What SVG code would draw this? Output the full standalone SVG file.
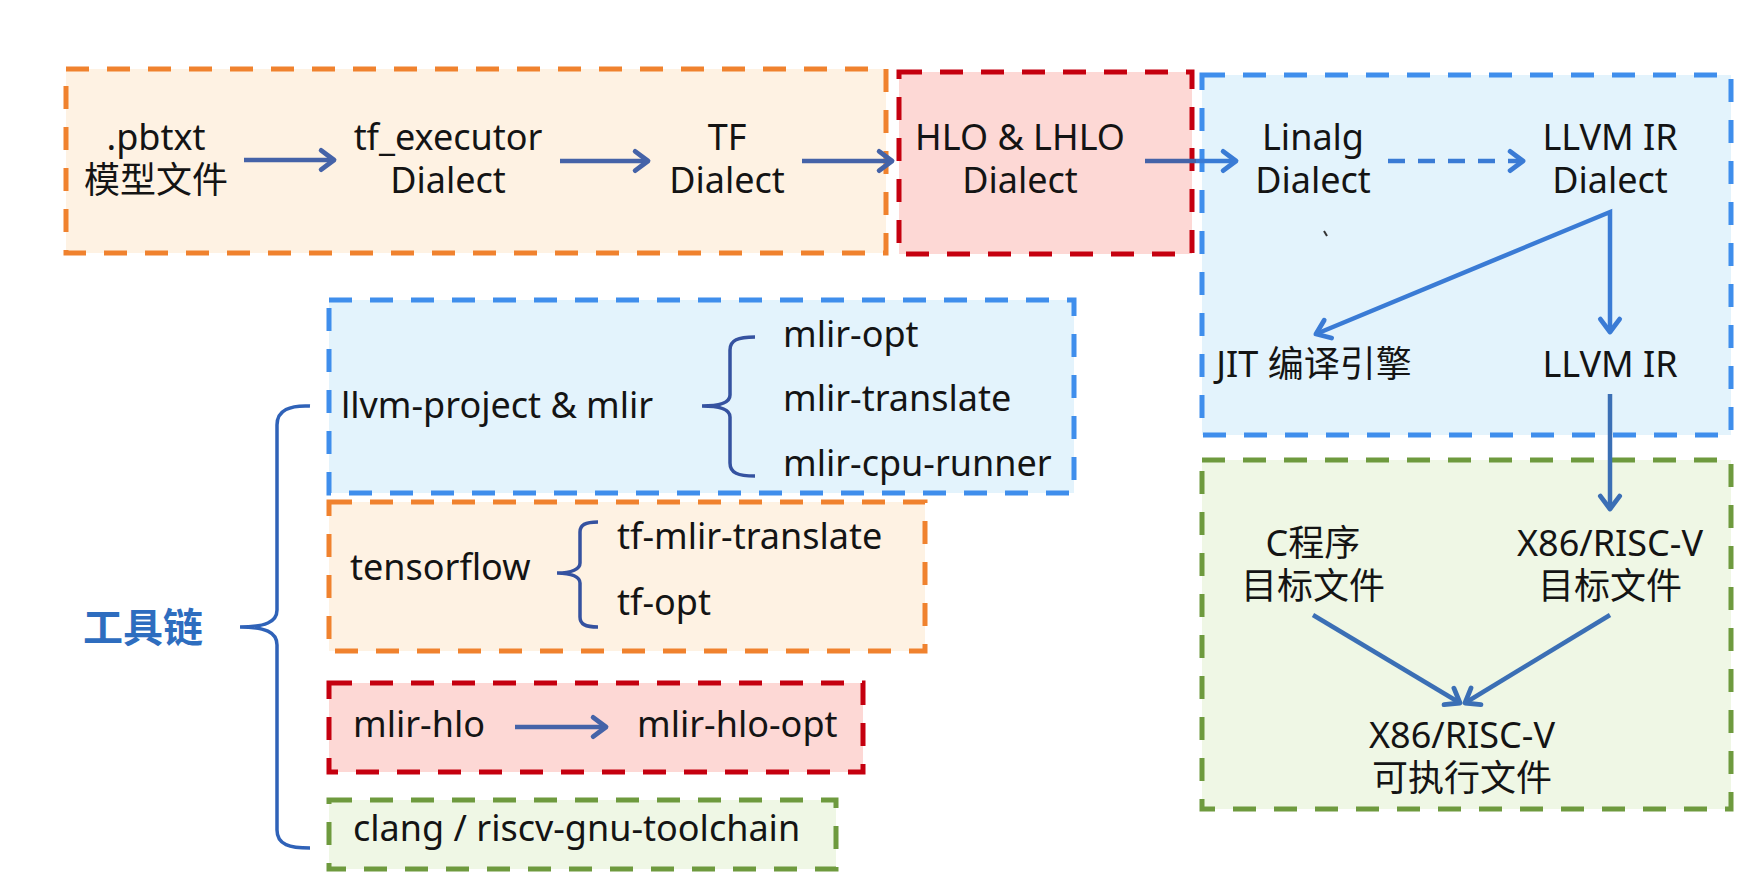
<svg xmlns="http://www.w3.org/2000/svg" width="1757" height="891" viewBox="0 0 1757 891">
<style>
.t{font-family:"Noto Sans","Noto Sans CJK SC",sans-serif;font-size:36px;fill:#141414}
.c{text-anchor:middle}
.box{stroke-width:5;stroke-dasharray:23 18}
.or{fill:#FEF2E3;stroke:#F0822E}
.rd{fill:#FDD8D5;stroke:#C5000F}
.bl{fill:#E3F3FC;stroke:#3F8EEC}
.gr{fill:#EFF7E5;stroke:#6E9A3E}
.nav{stroke:#4563A8;stroke-width:4.5;fill:none}
.brt{stroke:#3A7BD5;stroke-width:4.5;fill:none}
.stl{stroke:#3B6FB5;stroke-width:4.5;fill:none}
.br{stroke:#2F62B8;stroke-width:3.5;fill:none}
.sb{stroke:#3552A0;stroke-width:3.5;fill:none}
</style>
<defs>
<marker id="mNav" markerUnits="userSpaceOnUse" markerWidth="30" markerHeight="30" refX="0" refY="0" viewBox="-16 -14 20 28" orient="auto" overflow="visible">
<path d="M-12,-9 L0,0 L-12,9" fill="none" stroke="#4563A8" stroke-width="4.5" stroke-linecap="round" stroke-linejoin="round"/>
</marker>
<marker id="mBrt" markerUnits="userSpaceOnUse" markerWidth="30" markerHeight="30" refX="0" refY="0" viewBox="-16 -14 20 28" orient="auto-start-reverse" overflow="visible">
<path d="M-12,-9 L0,0 L-12,9" fill="none" stroke="#3A7BD5" stroke-width="4.5" stroke-linecap="round" stroke-linejoin="round"/>
</marker>
<marker id="mStl" markerUnits="userSpaceOnUse" markerWidth="30" markerHeight="30" refX="0" refY="0" viewBox="-16 -14 20 28" orient="auto" overflow="visible">
<path d="M-12,-9 L0,0 L-12,9" fill="none" stroke="#3B6FB5" stroke-width="4.5" stroke-linecap="round" stroke-linejoin="round"/>
</marker>
</defs>
<rect width="1757" height="891" fill="#FFFFFF"/>

<g id="frontend">
<rect class="box or" x="66" y="69" width="820" height="184"/>
<text class="t c" x="156" y="150"><tspan x="156">.pbtxt</tspan><tspan x="156" dy="43">模型文件</tspan></text>
<text class="t c" x="448" y="150"><tspan x="448">tf_executor</tspan><tspan x="448" dy="43">Dialect</tspan></text>
<text class="t c" x="727" y="150"><tspan x="727">TF</tspan><tspan x="727" dy="43">Dialect</tspan></text>
</g>

<g id="hlo">
<rect class="box rd" x="899" y="72" width="293" height="182"/>
<text class="t c" x="1020" y="150"><tspan x="1020">HLO &amp; LHLO</tspan><tspan x="1020" dy="43">Dialect</tspan></text>
</g>

<g id="llvm">
<rect class="box bl" x="1202" y="75" width="529" height="360"/>
<text class="t c" x="1313" y="150"><tspan x="1313">Linalg</tspan><tspan x="1313" dy="43">Dialect</tspan></text>
<text class="t c" x="1610" y="150"><tspan x="1610">LLVM IR</tspan><tspan x="1610" dy="43">Dialect</tspan></text>
<text class="t c" x="1314" y="377">JIT 编译引擎</text>
<text class="t c" x="1610" y="377">LLVM IR</text>
<path d="M1324,231 L1327,236" stroke="#333" stroke-width="2" fill="none"/>
</g>

<g id="target">
<rect class="box gr" x="1202" y="460" width="529" height="349"/>
<text class="t c" x="1313" y="556"><tspan x="1313">C程序</tspan><tspan x="1313" dy="43">目标文件</tspan></text>
<text class="t c" x="1610" y="556"><tspan x="1610">X86/RISC-V</tspan><tspan x="1610" dy="43">目标文件</tspan></text>
<text class="t c" x="1462" y="748"><tspan x="1462">X86/RISC-V</tspan><tspan x="1462" dy="43">可执行文件</tspan></text>
</g>

<g id="toolchain">
<text x="143" y="642" text-anchor="middle" style="font-family:'Noto Sans CJK SC','Noto Sans',sans-serif;font-size:40px;font-weight:bold;fill:#2E6DBF">工具链</text>
<path class="br" d="M310,406 C290,405 277,410 277,425 V610 C277,622 265,627 240,627 C265,627 277,632 277,645 V830 C277,845 290,848 310,848"/>
</g>

<g id="llvm-project">
<rect class="box bl" x="329" y="300" width="745" height="193"/>
<text class="t" x="341" y="418">llvm-project &amp; mlir</text>
<path class="sb" d="M755,337 C738,337 730,340 730,350 V395 C730,402 722,406 702,406 C722,406 730,410 730,417 V463 C730,473 738,476 755,476"/>
<text class="t" x="783" y="347">mlir-opt</text>
<text class="t" x="783" y="411">mlir-translate</text>
<text class="t" x="783" y="476">mlir-cpu-runner</text>
</g>

<g id="tensorflow">
<rect class="box or" x="329" y="502" width="596" height="149"/>
<text class="t" x="350" y="580">tensorflow</text>
<path class="sb" d="M598,522 C585,522 580,525 580,532 V563 C580,569 572,573 557,573 C572,573 580,577 580,583 V617 C580,624 585,627 598,627"/>
<text class="t" x="617" y="549">tf-mlir-translate</text>
<text class="t" x="617" y="615">tf-opt</text>
</g>

<g id="mlir-hlo">
<rect class="box rd" x="329" y="683" width="534" height="89"/>
<text class="t" x="353" y="737">mlir-hlo</text>
<text class="t" x="637" y="737">mlir-hlo-opt</text>
</g>

<g id="clang">
<rect class="box gr" x="329" y="800" width="507" height="69"/>
<text class="t" x="353" y="841">clang / riscv-gnu-toolchain</text>
</g>

<g id="connectors">
<line class="nav" x1="244" y1="160" x2="334" y2="160" marker-end="url(#mNav)"/>
<line class="nav" x1="560" y1="161" x2="648" y2="161" marker-end="url(#mNav)"/>
<line class="nav" x1="802" y1="161" x2="892" y2="161" marker-end="url(#mNav)"/>
<line class="nav" x1="1145" y1="161" x2="1196" y2="161"/>
<line class="brt" x1="1196" y1="161" x2="1236" y2="161" marker-end="url(#mBrt)"/>
<line class="brt" x1="1388" y1="161" x2="1523" y2="161" stroke-dasharray="17 13" marker-end="url(#mBrt)"/>
<path class="brt" d="M1316,334 L1610,212 L1610,332" stroke-linejoin="miter" marker-start="url(#mBrt)" marker-end="url(#mBrt)"/>
<line class="stl" x1="1610" y1="394" x2="1610" y2="509" marker-end="url(#mStl)"/>
<line class="stl" x1="1313" y1="615" x2="1460" y2="703" marker-end="url(#mStl)"/>
<line class="stl" x1="1610" y1="615" x2="1465" y2="703" marker-end="url(#mStl)"/>
<line class="nav" x1="515" y1="727" x2="606" y2="727" marker-end="url(#mNav)"/>
</g>
</svg>
